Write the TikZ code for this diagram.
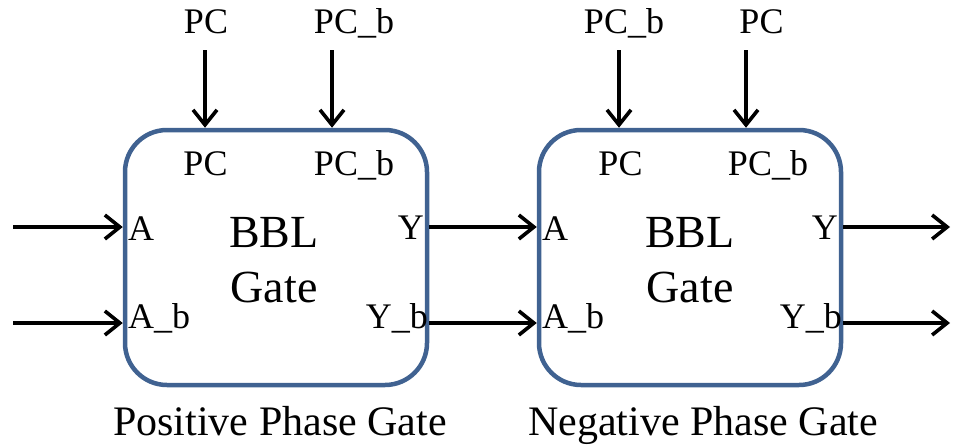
\documentclass[tikz,border=0pt]{standalone}
\usepackage{fontspec}
\setmainfont{Liberation Serif}
\usetikzlibrary{arrows.meta}
\definecolor{gateblue}{RGB}{64,98,145}
\tikzset{
  gatebox/.style={draw=gateblue, line width=4.5pt, rounded corners=42pt,
    minimum width=302pt, minimum height=255pt, inner sep=0pt},
  sig/.style={line width=3.6pt, -{Straight Barb[length=15pt,width=24pt,line width=3.6pt]}},
  port/.style={inner sep=0pt, font=\fontsize{36}{42}\selectfont},
  title/.style={inner sep=0pt, anchor=base, font=\fontsize{46}{52}\selectfont},
  caption/.style={inner sep=0pt, anchor=base, font=\fontsize{42}{48}\selectfont}
}
\begin{document}
\begin{tikzpicture}[x=1pt,y=-1pt]
\useasboundingbox (0,0) rectangle (953,447);

% the two gate bodies
\node[gatebox] (g1) at (276,257.5) {};
\node[gatebox] (g2) at (690,257.5) {};

% gate names
\node[title] (bbl1) at (274,247) {BBL};
\node[title] (gate1) at (274,302) {Gate};
\node[title] (bbl2) at (690,247) {BBL};
\node[title] (gate2) at (690,302) {Gate};

% port names inside the positive phase gate
\node[port, anchor=base] (p1pc) at (205.5,175) {PC};
\node[port, anchor=base] (p1pcb) at (354,175) {PC\_b};
\node[port, anchor=base west] (p1a) at (128,240) {A};
\node[port, anchor=base west] (p1ab) at (128,328) {A\_b};
\node[port, anchor=base east] (p1y) at (424,239) {Y};
\node[port, anchor=base east] (p1yb) at (428,328) {Y\_b};

% port names inside the negative phase gate
\node[port, anchor=base] (p2pc) at (620.5,175) {PC};
\node[port, anchor=base] (p2pcb) at (768,175) {PC\_b};
\node[port, anchor=base west] (p2a) at (542,240) {A};
\node[port, anchor=base west] (p2ab) at (542,328) {A\_b};
\node[port, anchor=base east] (p2y) at (838,239) {Y};
\node[port, anchor=base east] (p2yb) at (842,328) {Y\_b};

% clock signal names above the gates
\node[port, anchor=base] (c1) at (206,33) {PC};
\node[port, anchor=base] (c2) at (354,33) {PC\_b};
\node[port, anchor=base] (c3) at (624,33) {PC\_b};
\node[port, anchor=base] (c4) at (761.5,33) {PC};

% clock arrows
\coordinate (c1s) at (205,50);
\coordinate (c2s) at (332,50);
\coordinate (c3s) at (619,50);
\coordinate (c4s) at (746,50);
\draw[sig] (c1s) -- (c1s |- g1.north);
\draw[sig] (c2s) -- (c2s |- g1.north);
\draw[sig] (c3s) -- (c3s |- g2.north);
\draw[sig] (c4s) -- (c4s |- g2.north);

% data inputs
\coordinate (in1) at (13,227);
\coordinate (in2) at (13,323);
\draw[sig] (in1) -- (in1 -| g1.west);
\draw[sig] (in2) -- (in2 -| g1.west);

% links between the gates
\draw[sig] (in1 -| g1.east) -- (in1 -| g2.west);
\draw[sig] (in2 -| g1.east) -- (in2 -| g2.west);

% data outputs
\coordinate (out1) at (950,227);
\coordinate (out2) at (950,323);
\draw[sig] (out1 -| g2.east) -- (out1);
\draw[sig] (out2 -| g2.east) -- (out2);

% captions
\node[caption] (cap1) at (280,435) {Positive Phase Gate};
\node[caption] (cap2) at (703,435) {Negative Phase Gate};
\end{tikzpicture}
\end{document}
